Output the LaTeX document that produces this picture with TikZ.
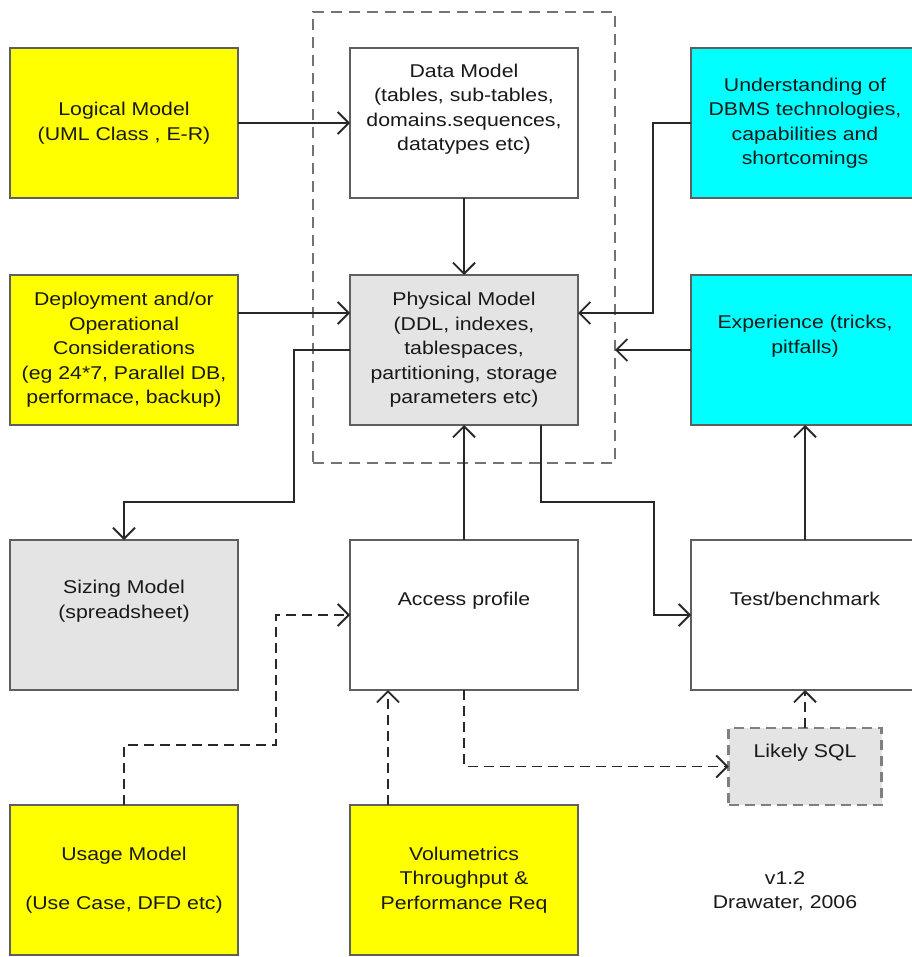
\documentclass[tikz,border=0pt]{standalone}
\usepackage{fontspec}
\setmainfont{Liberation Sans}[FakeStretch=1.15]
\usetikzlibrary{arrows.meta, positioning}
\definecolor{boxyellow}{RGB}{255,255,0}
\definecolor{boxcyan}{RGB}{0,255,255}
\definecolor{boxgrey}{RGB}{228,228,228}
\definecolor{edgegrey}{RGB}{95,95,95}
\definecolor{linegrey}{RGB}{40,40,40}

\begin{document}
\begin{tikzpicture}[
  x=1pt, y=-1pt,
  node distance=112pt,
  box/.style={rectangle, draw=edgegrey, line width=2.2pt, fill=white, align=center, font=\fontsize{18.5}{24.5}\selectfont, text=black!90, minimum width=228pt, minimum height=150pt, inner sep=0pt, outer sep=0pt},
  yellowbox/.style={box, fill=boxyellow},
  cyanbox/.style={box, fill=boxcyan},
  greybox/.style={box, fill=boxgrey},
  sqlbox/.style={greybox, draw=gray, line width=2.6pt, dash pattern=on 10pt off 6pt, minimum width=153pt, minimum height=77pt},
  zone/.style={draw=gray!90!black, line width=2.8pt, dash pattern=on 11pt off 7pt, minimum width=302pt, minimum height=451pt, outer sep=0pt},
  arr/.style={draw=linegrey, line width=1.8pt, -{Straight Barb[length=11pt,width=22pt]}},
  darr/.style={arr, dash pattern=on 10pt off 6pt}
]
\useasboundingbox (0,0) rectangle (911,957);
\node[zone] (zone) at (464,237.5) {};
\node[yellowbox] (logical) at (124,123) {Logical Model\\(UML Class , E-R)};
\node[box, right=of logical] (data) {Data Model\\(tables, sub-tables,\\domains.sequences,\\datatypes etc)\\\strut};
\node[cyanbox, right=113pt of data] (dbms) {Understanding of\\DBMS technologies,\\capabilities and\\shortcomings};
\node[yellowbox, below=77pt of logical] (deploy) {Deployment and/or\\Operational\\Considerations\\(eg 24*7, Parallel DB,\\performace, backup)};
\node[greybox, right=of deploy] (phys) {Physical Model\\(DDL, indexes,\\tablespaces,\\partitioning, storage\\parameters etc)};
\node[cyanbox, right=113pt of phys] (exp) {Experience (tricks,\\pitfalls)\\\strut};
\node[greybox, below=115pt of deploy] (sizing) {Sizing Model\\(spreadsheet)\\\strut};
\node[box, right=of sizing] (access) {Access profile\\\strut};
\node[box, right=113pt of access] (test) {Test/benchmark\\\strut};
\node[sqlbox, below=38pt of test] (sql) {Likely SQL\\\strut};
\node[yellowbox, below=115pt of sizing] (usage) {Usage Model\\[24.5pt](Use Case, DFD etc)};
\node[yellowbox, right=of usage] (vol) {Volumetrics\\Throughput \&\\Performance Req};
\node[align=center, font=\fontsize{18.5}{24.5}\selectfont, text=black!90] (ver) at (785,891) {v1.2\\Drawater, 2006};

\draw[arr] (logical) -- (data);
\draw[arr] (data) -- (phys);
\draw[arr] ([yshift=37pt]deploy.east) -- ([yshift=37pt]phys.west);
\draw[arr] (dbms.west) -- ++(-38,0) |- ([yshift=37pt]phys.east);
\draw[arr] (exp) -- (exp -| zone.east);
\draw[arr] (phys.west) -- ++(-56,0) -- ++(0,152) -| (sizing.north);
\draw[arr] (access) -- (phys);
\draw[arr] ([xshift=77pt]phys.south) -- ++(0,77) -- ++(113,0) |- (test.west);
\draw[arr] (test) -- (exp);
\draw[darr] (sql) -- (test);
\draw[darr] (access.south) |- (sql.west);
\draw[darr] ([xshift=-76pt]vol.north) -- ([xshift=-76pt]access.south);
\draw[darr] (usage.north) -- ++(0,-60) -- ++(152,0) |- (access.west);
\end{tikzpicture}
\end{document}
